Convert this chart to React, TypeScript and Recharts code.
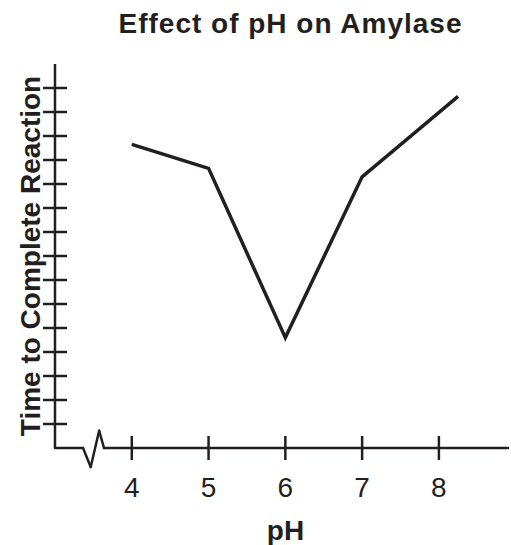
import { LineChart, Line, XAxis, YAxis, ReferenceLine } from "recharts";

const phValues = [4, 5, 6, 7, 8.25];
const reactionTimes = [12.65, 11.65, 4.6, 11.3, 14.65];
const xTicks = [4, 5, 6, 7, 8];
const yTicks = [1, 2, 3, 4, 5, 6, 7, 8, 9, 10, 11, 12, 13, 14, 15];

// broken x-axis: flat, zigzag, flat
const breakPh = [3, 3.365, 3.465, 3.575, 3.638, 8.9];
const breakLevel = [0, 0, -0.79, 0.72, 0, 0];

const amylase = phValues.map((ph, i) => ({ ph, time: reactionTimes[i] }));
const breakSegments = breakPh.slice(1).map((ph, i) => [
  { x: breakPh[i], y: breakLevel[i] },
  { x: ph, y: breakLevel[i + 1] },
]);

const FONT = '"Liberation Sans", Arial, sans-serif';
const INK = "#231f20";

const XTick = ({ x, y, payload }: any) => (
  <g>
    <line x1={x} x2={x} y1={y - 12} y2={y + 12} stroke={INK} strokeWidth={2.5} />
    <text x={x} y={y + 49} textAnchor="middle" fontFamily={FONT} fontSize={28} fill={INK}>
      {payload.value}
    </text>
  </g>
);

const YTick = ({ x, y }: any) => (
  <line x1={x - 12} x2={x + 12} y1={y} y2={y} stroke={INK} strokeWidth={2.5} />
);

const yLabel = ({ viewBox }: any) => {
  const cx = 40;
  const cy = viewBox.y + viewBox.height / 2;
  return (
    <text
      x={cx}
      y={cy}
      transform={`rotate(-90, ${cx}, ${cy})`}
      textAnchor="middle"
      fontFamily={FONT}
      fontWeight="bold"
      fontSize={28}
      fill={INK}
    >
      Time to Complete Reaction
    </text>
  );
};

const xLabel = ({ viewBox }: any) => (
  <text
    x={viewBox.x + viewBox.width / 2 + 4}
    y={viewBox.y + 92}
    textAnchor="middle"
    fontFamily={FONT}
    fontWeight="bold"
    fontSize={28}
    fill={INK}
  >
    pH
  </text>
);

export default function App() {
  return (
    <div style={{ position: "absolute", left: 0, top: 0, width: 511, height: 545, background: "#fff" }}>
      <div
        style={{
          position: "absolute",
          left: 0,
          top: 10,
          width: 511,
          paddingLeft: 70,
          boxSizing: "border-box",
          textAlign: "center",
          fontFamily: FONT,
          fontWeight: "bold",
          fontSize: 28,
          lineHeight: "28px",
          letterSpacing: 1,
          color: INK,
        }}
      >
        Effect of pH on Amylase
      </div>
      <LineChart width={511} height={545} margin={{ top: 64, right: 3, bottom: 0, left: 0 }}>
        <XAxis
          type="number"
          dataKey="ph"
          domain={[3, 8.9]}
          ticks={xTicks}
          axisLine={false}
          tickLine={false}
          tickSize={0}
          tickMargin={0}
          tick={<XTick />}
          height={97}
          interval={0}
          label={xLabel}
        />
        <YAxis
          type="number"
          domain={[0, 16]}
          ticks={yTicks}
          width={55}
          axisLine={{ stroke: INK, strokeWidth: 2.5 }}
          tickLine={false}
          tickSize={0}
          tickMargin={0}
          tick={<YTick />}
          interval={0}
          label={yLabel}
        />
        {breakSegments.map((seg, i) => (
          <ReferenceLine
            key={i}
            segment={seg}
            ifOverflow="visible"
            stroke={INK}
            strokeWidth={2.5}
            strokeLinecap="round"
          />
        ))}
        <Line
          data={amylase}
          dataKey="time"
          type="linear"
          stroke={INK}
          strokeWidth={3.5}
          dot={false}
          isAnimationActive={false}
        />
      </LineChart>
    </div>
  );
}
